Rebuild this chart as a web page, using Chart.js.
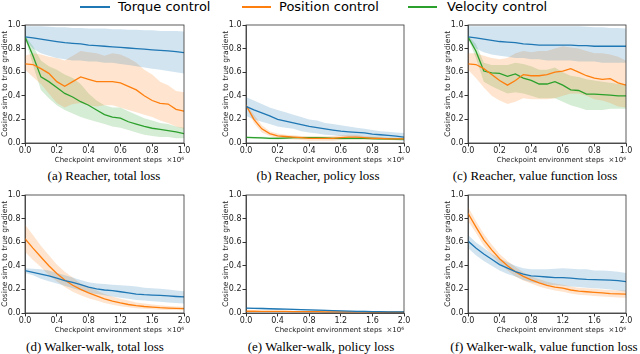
<!DOCTYPE html>
<html>
<head>
<meta charset="utf-8">
<script src="https://cdn.jsdelivr.net/npm/chart.js@4.4.0/dist/chart.umd.min.js"></script>
<style>
  body { margin: 0; background: #fff; width: 640px; height: 354px; position: relative; overflow: hidden; }
  canvas { position: absolute; }
  .leg-line { position: absolute; top: 6px; height: 2px; }
  .leg-text { position: absolute; top: 0; font: 13px/13px "DejaVu Sans", sans-serif; color: #000; white-space: nowrap; }
  .caption { position: absolute; width: 300px; text-align: center; font: 13px/13px "Liberation Serif", serif; color: #000; white-space: nowrap; }
  .ytick { position: absolute; width: 20px; text-align: right; font: 8px/10px "DejaVu Sans", sans-serif; color: #222; z-index: 10; white-space: nowrap; }
</style>
</head>
<body>
<div class="leg-line" style="left:80px;width:30px;background:#1f77b4"></div>
<div class="leg-text" style="left:118px">Torque control</div>
<div class="leg-line" style="left:242px;width:29px;background:#ff7f0e"></div>
<div class="leg-text" style="left:279px">Position control</div>
<div class="leg-line" style="left:408px;width:29px;background:#2ca02c"></div>
<div class="leg-text" style="left:447px">Velocity control</div>

<canvas id="chartA" width="190" height="145" style="left:0;top:20px"></canvas>
<canvas id="chartB" width="189" height="145" style="left:221px;top:20px"></canvas>
<canvas id="chartC" width="189" height="145" style="left:443px;top:20px"></canvas>
<canvas id="chartD" width="190" height="145" style="left:0;top:190px"></canvas>
<canvas id="chartE" width="189" height="145" style="left:221px;top:190px"></canvas>
<canvas id="chartF" width="189" height="145" style="left:443px;top:190px"></canvas>

<div class="caption" style="left:-46px;top:169px">(a) Reacher, total loss</div>
<div class="caption" style="left:168px;top:169px">(b) Reacher, policy loss</div>
<div class="caption" style="left:385px;top:169px">(c) Reacher, value function loss</div>
<div class="caption" style="left:-55px;top:340px">(d) Walker-walk, total loss</div>
<div class="caption" style="left:171px;top:340px">(e) Walker-walk, policy loss</div>
<div class="caption" style="left:394px;top:340px">(f) Walker-walk, value function loss</div>

<script>
// x positions (x10^6 env steps)
var reacherSteps = [0, 0.05, 0.1, 0.15, 0.2, 0.25, 0.3, 0.35, 0.4, 0.45, 0.5, 0.55, 0.6, 0.65, 0.7, 0.75, 0.8, 0.85, 0.9, 0.95, 1.0];
var walkerSteps = [0, 0.1, 0.2, 0.3, 0.4, 0.5, 0.6, 0.7, 0.8, 0.9, 1.0, 1.1, 1.2, 1.3, 1.4, 1.5, 1.6, 1.7, 1.8, 1.9, 2.0];
var yTicks = [0, 0.2, 0.4, 0.6, 0.8, 1.0];

// (a) Reacher, total loss
var aTorque   = [0.90, 0.89, 0.88, 0.87, 0.86, 0.85, 0.845, 0.84, 0.83, 0.825, 0.82, 0.815, 0.81, 0.805, 0.80, 0.795, 0.79, 0.785, 0.78, 0.775, 0.765];
var aTorqueLo = [0.88, 0.80, 0.76, 0.74, 0.72, 0.71, 0.70, 0.70, 0.69, 0.69, 0.68, 0.68, 0.67, 0.66, 0.65, 0.64, 0.63, 0.62, 0.61, 0.60, 0.59];
var aTorqueHi = [0.99, 0.99, 0.99, 0.985, 0.98, 0.98, 0.975, 0.975, 0.97, 0.97, 0.97, 0.965, 0.965, 0.96, 0.96, 0.955, 0.955, 0.95, 0.95, 0.95, 0.945];
var aPos      = [0.67, 0.665, 0.63, 0.59, 0.52, 0.48, 0.52, 0.56, 0.54, 0.52, 0.52, 0.52, 0.51, 0.48, 0.45, 0.40, 0.36, 0.335, 0.33, 0.285, 0.27];
var aPosLo    = [0.62, 0.56, 0.50, 0.42, 0.34, 0.30, 0.33, 0.34, 0.32, 0.31, 0.32, 0.32, 0.30, 0.28, 0.26, 0.24, 0.22, 0.19, 0.17, 0.14, 0.12];
var aPosHi    = [0.74, 0.76, 0.75, 0.73, 0.72, 0.70, 0.74, 0.78, 0.77, 0.76, 0.74, 0.76, 0.75, 0.72, 0.68, 0.62, 0.58, 0.52, 0.49, 0.44, 0.43];
var aVel      = [0.90, 0.74, 0.56, 0.52, 0.47, 0.42, 0.39, 0.35, 0.32, 0.28, 0.24, 0.22, 0.21, 0.18, 0.16, 0.14, 0.125, 0.115, 0.105, 0.095, 0.08];
var aVelLo    = [0.89, 0.66, 0.45, 0.38, 0.32, 0.28, 0.25, 0.22, 0.20, 0.18, 0.16, 0.14, 0.13, 0.11, 0.09, 0.07, 0.06, 0.05, 0.05, 0.04, 0.04];
var aVelHi    = [0.91, 0.82, 0.70, 0.65, 0.62, 0.58, 0.55, 0.50, 0.42, 0.36, 0.32, 0.30, 0.30, 0.27, 0.24, 0.21, 0.19, 0.17, 0.16, 0.14, 0.13];

// (b) Reacher, policy loss
var bTorque   = [0.31, 0.28, 0.255, 0.23, 0.20, 0.185, 0.17, 0.155, 0.14, 0.13, 0.12, 0.11, 0.10, 0.095, 0.09, 0.085, 0.076, 0.07, 0.065, 0.058, 0.05];
var bTorqueLo = [0.23, 0.20, 0.18, 0.16, 0.14, 0.13, 0.12, 0.10, 0.09, 0.08, 0.07, 0.065, 0.06, 0.055, 0.05, 0.045, 0.04, 0.035, 0.03, 0.025, 0.02];
var bTorqueHi = [0.39, 0.36, 0.33, 0.30, 0.28, 0.26, 0.24, 0.22, 0.20, 0.19, 0.17, 0.16, 0.15, 0.14, 0.13, 0.12, 0.11, 0.10, 0.095, 0.09, 0.085];
var bPos      = [0.32, 0.20, 0.12, 0.08, 0.06, 0.055, 0.05, 0.045, 0.04, 0.04, 0.04, 0.04, 0.045, 0.05, 0.05, 0.045, 0.04, 0.04, 0.035, 0.035, 0.035];
var bPosLo    = [0.31, 0.17, 0.09, 0.06, 0.04, 0.035, 0.03, 0.025, 0.02, 0.02, 0.02, 0.02, 0.025, 0.03, 0.03, 0.03, 0.025, 0.025, 0.025, 0.025, 0.025];
var bPosHi    = [0.33, 0.24, 0.15, 0.10, 0.08, 0.07, 0.065, 0.06, 0.055, 0.055, 0.055, 0.06, 0.065, 0.07, 0.07, 0.06, 0.055, 0.05, 0.045, 0.045, 0.045];
var bVel      = [0.048, 0.045, 0.043, 0.04, 0.04, 0.042, 0.045, 0.045, 0.045, 0.045, 0.043, 0.04, 0.04, 0.04, 0.04, 0.04, 0.038, 0.036, 0.035, 0.033, 0.032];
var bVelLo    = [0.04, 0.037, 0.034, 0.031, 0.03, 0.032, 0.034, 0.034, 0.034, 0.034, 0.032, 0.03, 0.03, 0.03, 0.03, 0.03, 0.028, 0.026, 0.025, 0.023, 0.022];
var bVelHi    = [0.056, 0.053, 0.052, 0.05, 0.05, 0.053, 0.056, 0.056, 0.056, 0.056, 0.054, 0.05, 0.05, 0.05, 0.05, 0.05, 0.048, 0.046, 0.045, 0.043, 0.042];

// (c) Reacher, value function loss
var cTorque   = [0.90, 0.89, 0.88, 0.87, 0.86, 0.855, 0.85, 0.84, 0.835, 0.83, 0.83, 0.83, 0.83, 0.83, 0.825, 0.825, 0.82, 0.82, 0.82, 0.82, 0.82];
var cTorqueLo = [0.88, 0.80, 0.77, 0.75, 0.74, 0.73, 0.72, 0.72, 0.71, 0.71, 0.70, 0.70, 0.70, 0.70, 0.69, 0.69, 0.69, 0.68, 0.68, 0.68, 0.68];
var cTorqueHi = [0.99, 0.99, 0.99, 0.99, 0.99, 0.99, 0.99, 0.99, 0.99, 0.99, 0.99, 0.99, 0.99, 0.99, 0.99, 0.985, 0.98, 0.98, 0.975, 0.975, 0.97];
var cPos      = [0.67, 0.665, 0.63, 0.58, 0.53, 0.49, 0.53, 0.58, 0.57, 0.57, 0.58, 0.60, 0.61, 0.63, 0.60, 0.57, 0.55, 0.54, 0.545, 0.51, 0.49];
var cPosLo    = [0.62, 0.55, 0.47, 0.40, 0.36, 0.33, 0.35, 0.38, 0.37, 0.37, 0.37, 0.38, 0.40, 0.42, 0.42, 0.40, 0.37, 0.36, 0.34, 0.31, 0.30];
var cPosHi    = [0.76, 0.76, 0.74, 0.72, 0.71, 0.72, 0.76, 0.78, 0.77, 0.78, 0.78, 0.80, 0.82, 0.81, 0.80, 0.78, 0.76, 0.76, 0.75, 0.73, 0.70];
var cVel      = [0.90, 0.78, 0.61, 0.595, 0.59, 0.565, 0.585, 0.55, 0.53, 0.50, 0.50, 0.52, 0.49, 0.45, 0.445, 0.415, 0.415, 0.41, 0.405, 0.40, 0.40];
var cVelLo    = [0.89, 0.72, 0.52, 0.48, 0.45, 0.42, 0.43, 0.42, 0.40, 0.38, 0.38, 0.38, 0.35, 0.32, 0.30, 0.28, 0.28, 0.28, 0.29, 0.29, 0.29];
var cVelHi    = [0.91, 0.84, 0.68, 0.66, 0.66, 0.66, 0.68, 0.67, 0.65, 0.62, 0.62, 0.64, 0.60, 0.57, 0.56, 0.54, 0.53, 0.52, 0.51, 0.50, 0.50];

// (d) Walker-walk, total loss
var dTorque   = [0.36, 0.345, 0.33, 0.315, 0.295, 0.275, 0.26, 0.24, 0.22, 0.205, 0.195, 0.19, 0.18, 0.17, 0.16, 0.155, 0.152, 0.15, 0.145, 0.14, 0.136];
var dTorqueLo = [0.34, 0.32, 0.29, 0.27, 0.25, 0.23, 0.21, 0.19, 0.17, 0.16, 0.15, 0.14, 0.13, 0.12, 0.11, 0.105, 0.10, 0.095, 0.09, 0.085, 0.08];
var dTorqueHi = [0.38, 0.375, 0.37, 0.36, 0.34, 0.32, 0.30, 0.28, 0.26, 0.25, 0.245, 0.24, 0.235, 0.23, 0.225, 0.215, 0.21, 0.205, 0.20, 0.19, 0.185];
var dPos      = [0.63, 0.55, 0.475, 0.40, 0.335, 0.28, 0.235, 0.20, 0.17, 0.145, 0.12, 0.10, 0.085, 0.072, 0.062, 0.055, 0.05, 0.045, 0.042, 0.04, 0.037];
var dPosLo    = [0.52, 0.45, 0.39, 0.32, 0.27, 0.22, 0.18, 0.15, 0.125, 0.105, 0.085, 0.07, 0.058, 0.048, 0.04, 0.035, 0.031, 0.028, 0.026, 0.025, 0.024];
var dPosHi    = [0.75, 0.66, 0.57, 0.49, 0.41, 0.35, 0.30, 0.25, 0.22, 0.19, 0.16, 0.14, 0.12, 0.105, 0.09, 0.08, 0.072, 0.065, 0.06, 0.056, 0.052];

// (e) Walker-walk, policy loss
var eTorque   = [0.042, 0.04, 0.038, 0.036, 0.034, 0.032, 0.03, 0.028, 0.026, 0.024, 0.022, 0.02, 0.018, 0.016, 0.014, 0.013, 0.012, 0.011, 0.01, 0.01, 0.01];
var eTorqueLo = [0.036, 0.034, 0.032, 0.03, 0.028, 0.026, 0.024, 0.022, 0.02, 0.018, 0.016, 0.014, 0.012, 0.01, 0.008, 0.007, 0.006, 0.005, 0.004, 0.004, 0.004];
var eTorqueHi = [0.048, 0.046, 0.044, 0.042, 0.04, 0.038, 0.036, 0.034, 0.032, 0.03, 0.028, 0.026, 0.024, 0.022, 0.02, 0.019, 0.018, 0.017, 0.016, 0.016, 0.016];
var ePos      = [0.015, 0.015, 0.014, 0.014, 0.013, 0.013, 0.012, 0.012, 0.011, 0.011, 0.01, 0.01, 0.01, 0.009, 0.009, 0.009, 0.008, 0.008, 0.008, 0.008, 0.008];
var ePosLo    = [0.011, 0.011, 0.01, 0.01, 0.009, 0.009, 0.008, 0.008, 0.007, 0.007, 0.006, 0.006, 0.006, 0.005, 0.005, 0.005, 0.004, 0.004, 0.004, 0.004, 0.004];
var ePosHi    = [0.019, 0.019, 0.018, 0.018, 0.017, 0.017, 0.016, 0.016, 0.015, 0.015, 0.014, 0.014, 0.014, 0.013, 0.013, 0.013, 0.012, 0.012, 0.012, 0.012, 0.012];

// (f) Walker-walk, value function loss
var fTorque   = [0.61, 0.55, 0.50, 0.455, 0.41, 0.38, 0.35, 0.33, 0.315, 0.31, 0.305, 0.30, 0.30, 0.295, 0.29, 0.285, 0.283, 0.28, 0.278, 0.275, 0.265];
var fTorqueLo = [0.55, 0.49, 0.44, 0.40, 0.36, 0.33, 0.31, 0.28, 0.26, 0.25, 0.24, 0.235, 0.23, 0.225, 0.22, 0.215, 0.21, 0.205, 0.20, 0.19, 0.18];
var fTorqueHi = [0.66, 0.60, 0.55, 0.50, 0.46, 0.43, 0.40, 0.38, 0.37, 0.37, 0.37, 0.375, 0.38, 0.375, 0.37, 0.37, 0.36, 0.36, 0.355, 0.35, 0.34];
var fPos      = [0.845, 0.73, 0.62, 0.535, 0.46, 0.40, 0.35, 0.31, 0.28, 0.255, 0.235, 0.22, 0.21, 0.195, 0.185, 0.18, 0.175, 0.17, 0.165, 0.162, 0.16];
var fPosLo    = [0.78, 0.68, 0.57, 0.49, 0.42, 0.36, 0.31, 0.275, 0.25, 0.225, 0.205, 0.19, 0.18, 0.165, 0.155, 0.15, 0.145, 0.14, 0.135, 0.132, 0.13];
var fPosHi    = [0.90, 0.78, 0.67, 0.58, 0.50, 0.44, 0.39, 0.345, 0.31, 0.285, 0.265, 0.25, 0.24, 0.225, 0.215, 0.21, 0.205, 0.20, 0.195, 0.19, 0.19];

var colors = {
  torque: ['#1f77b4', 'rgba(31,119,180,0.2)'],
  pos: ['#ff7f0e', 'rgba(255,127,14,0.2)'],
  vel: ['#2ca02c', 'rgba(44,160,44,0.2)']
};

function pts(xs, ys) {
  return xs.map(function(x, i) { return {x: x, y: ys[i]}; });
}

// hi band, lo band filled up to hi, then the mean line
function seriesSets(xs, mean, lo, hi, col) {
  return [
    {data: pts(xs, hi), borderWidth: 0, pointRadius: 0, fill: false},
    {data: pts(xs, lo), borderWidth: 0, pointRadius: 0, fill: '-1', backgroundColor: col[1]},
    {data: pts(xs, mean), borderWidth: 1.3, borderColor: col[0], pointRadius: 0, fill: false, tension: 0}
  ];
}

// top and right spines
var framePlugin = {
  id: 'frame',
  afterDraw: function(chart) {
    var a = chart.chartArea, ctx = chart.ctx;
    ctx.save();
    ctx.strokeStyle = '#333';
    ctx.lineWidth = 0.8;
    ctx.strokeRect(a.left, a.top, a.right - a.left, a.bottom - a.top);
    ctx.restore();
  }
};

// y tick labels as page text, placed with the chart's own y scale
// (the canvas ones kept vanishing next to the x title)
function addYLabels(chart, canvas) {
  var a = chart.chartArea, y = chart.scales.y;
  yTicks.forEach(function(v) {
    var el = document.createElement('div');
    el.className = 'ytick';
    el.textContent = v.toFixed(1);
    el.style.left = (canvas.offsetLeft + a.left - 4.5 - 20) + 'px';
    el.style.top = (canvas.offsetTop + y.getPixelForValue(v) - 5) + 'px';
    document.body.appendChild(el);
  });
}

function makePanel(id, xs, xMax, xStep, series) {
  var datasets = [];
  series.forEach(function(s) {
    datasets = datasets.concat(seriesSets(xs, s[0], s[1], s[2], s[3]));
  });
  var canvas = document.getElementById(id);
  var chart = new Chart(canvas.getContext('2d'), {
    type: 'line',
    data: {datasets: datasets},
    plugins: [framePlugin],
    options: {
      responsive: false,
      animation: false,
      layout: {padding: {top: 5, right: 6, left: 0, bottom: 0}},
      plugins: {
        legend: {display: false},
        tooltip: {enabled: false},
        filler: {drawTime: 'beforeDatasetsDraw'}
      },
      scales: {
        x: {
          type: 'linear',
          min: 0,
          max: xMax,
          afterFit: function(scale) {
            scale.height = 22;
            scale.paddingLeft = 0;
            scale.paddingRight = 0;
          },
          grid: {drawOnChartArea: false, tickLength: 3.5, tickColor: '#333'},
          border: {color: '#333', width: 0.8},
          ticks: {
            stepSize: xStep, maxRotation: 0, padding: 0, color: '#222',
            font: {family: 'DejaVu Sans', size: 8},
            callback: function(v) { return v.toFixed(1); }
          },
          title: {
            display: true, align: 'end', color: '#222',
            text: 'Checkpoint environment steps  \u00d710\u2076',
            font: {family: 'DejaVu Sans', size: 7},
            padding: {top: 0, bottom: 1}
          }
        },
        y: {
          min: 0,
          max: 1,
          afterFit: function(scale) {
            scale.width = 25;
            scale.paddingTop = 0;
            scale.paddingBottom = 0;
          },
          grid: {drawOnChartArea: false, tickLength: 3.5, tickColor: '#333'},
          border: {color: '#333', width: 0.8},
          ticks: {stepSize: 0.2, display: false},
          title: {
            display: true, color: '#222',
            text: 'Cosine sim. to true gradient',
            font: {family: 'DejaVu Sans', size: 7.6},
            padding: {top: 0, bottom: 0}
          }
        }
      }
    }
  });
  addYLabels(chart, canvas);
  return chart;
}

makePanel('chartA', reacherSteps, 1, 0.2, [
  [aTorque, aTorqueLo, aTorqueHi, colors.torque],
  [aPos, aPosLo, aPosHi, colors.pos],
  [aVel, aVelLo, aVelHi, colors.vel]
]);
makePanel('chartB', reacherSteps, 1, 0.2, [
  [bTorque, bTorqueLo, bTorqueHi, colors.torque],
  [bPos, bPosLo, bPosHi, colors.pos],
  [bVel, bVelLo, bVelHi, colors.vel]
]);
makePanel('chartC', reacherSteps, 1, 0.2, [
  [cTorque, cTorqueLo, cTorqueHi, colors.torque],
  [cPos, cPosLo, cPosHi, colors.pos],
  [cVel, cVelLo, cVelHi, colors.vel]
]);
makePanel('chartD', walkerSteps, 2, 0.4, [
  [dTorque, dTorqueLo, dTorqueHi, colors.torque],
  [dPos, dPosLo, dPosHi, colors.pos]
]);
makePanel('chartE', walkerSteps, 2, 0.4, [
  [eTorque, eTorqueLo, eTorqueHi, colors.torque],
  [ePos, ePosLo, ePosHi, colors.pos]
]);
makePanel('chartF', walkerSteps, 2, 0.4, [
  [fTorque, fTorqueLo, fTorqueHi, colors.torque],
  [fPos, fPosLo, fPosHi, colors.pos]
]);
</script>
</body>
</html>
